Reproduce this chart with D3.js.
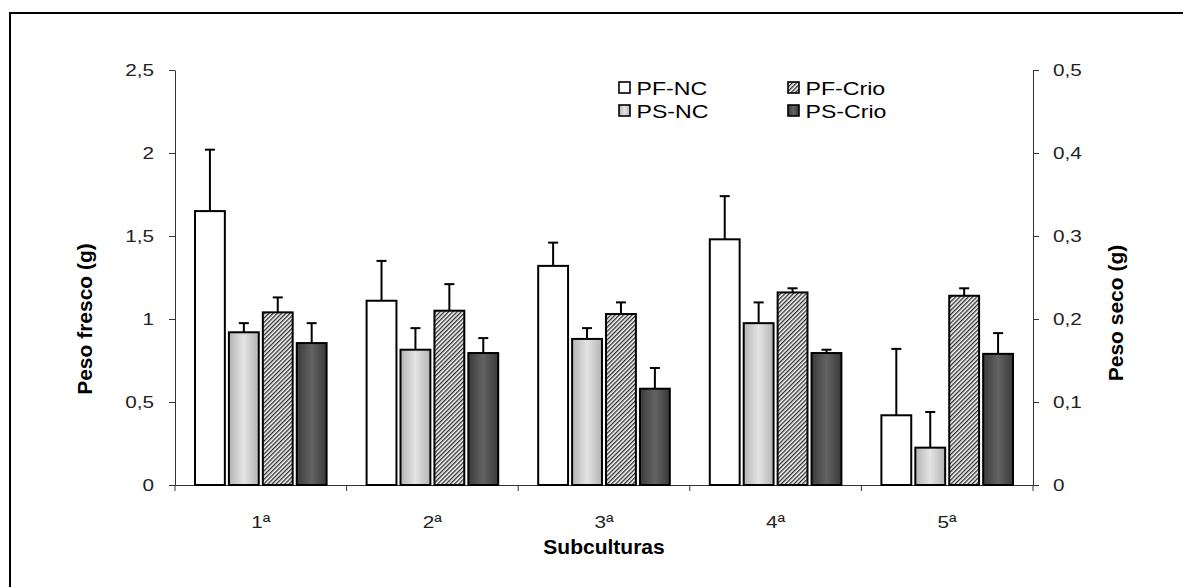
<!DOCTYPE html>
<html>
<head>
<meta charset="utf-8">
<script src="https://cdn.jsdelivr.net/npm/d3@7"></script>
<style>
  body { margin: 0; background: #fff; }
  svg text { font-family: "Liberation Sans", Arial, sans-serif; }
</style>
</head>
<body>
<div id="chart"></div>
<script>
var categories = ["1ª", "2ª", "3ª", "4ª", "5ª"];
var series = ["PF-NC", "PS-NC", "PF-Crio", "PS-Crio"];

// peso fresco (left axis), peso seco (right axis)
var pfNC     = [1.65, 1.11, 1.32, 1.48, 0.42];
var pfNCErr  = [0.37, 0.24, 0.14, 0.26, 0.40];
var psNC     = [0.184, 0.163, 0.176, 0.195, 0.045];
var psNCErr  = [0.011, 0.026, 0.013, 0.025, 0.043];
var pfCrio   = [1.04, 1.05, 1.03, 1.16, 1.14];
var pfCrioErr= [0.09, 0.16, 0.07, 0.025, 0.045];
var psCrio   = [0.171, 0.159, 0.116, 0.159, 0.158];
var psCrioErr= [0.024, 0.018, 0.025, 0.004, 0.025];

var leftTicks  = [0, 0.5, 1, 1.5, 2, 2.5];
var rightTicks = [0, 0.1, 0.2, 0.3, 0.4, 0.5];

function init(){
    var w = 1183, h = 587;
    var left = 175, right = 1033, top = 70, bottom = 485;
    var sx = 1.22; // wide text like the original

    var svg = d3.select("#chart").append("svg")
        .attr("width", w).attr("height", h);

    var defs = svg.append("defs");
    var hatch = defs.append("pattern")
        .attr("id", "hatch")
        .attr("patternUnits", "userSpaceOnUse")
        .attr("width", 3).attr("height", 3)
        .attr("patternTransform", "rotate(45)");
    hatch.append("rect").attr("width", 3).attr("height", 3).attr("fill", "#fff");
    hatch.append("line").attr("x1", 0.7).attr("y1", 0).attr("x2", 0.7).attr("y2", 3)
        .attr("stroke", "#222").attr("stroke-width", 1.3);

    function grad(id, edge, mid){
        var g = defs.append("linearGradient").attr("id", id)
            .attr("x1", "0%").attr("x2", "100%").attr("y1", "0%").attr("y2", "0%");
        g.append("stop").attr("offset", "0%").attr("stop-color", edge);
        g.append("stop").attr("offset", "50%").attr("stop-color", mid);
        g.append("stop").attr("offset", "100%").attr("stop-color", edge);
    }
    grad("gLight", "#b4b4b4", "#e4e4e4");
    grad("gDark", "#3a3a3a", "#636363");

    var fills = {"PF-NC": "#fff", "PS-NC": "url(#gLight)", "PF-Crio": "url(#hatch)", "PS-Crio": "url(#gDark)"};

    // outer frame
    svg.append("path").attr("d", "M10," + h + "V13H" + w)
        .attr("fill", "none").attr("stroke", "#000").attr("stroke-width", 2);

    var x = d3.scaleBand().domain(categories).range([left, right]);
    var xs = d3.scaleBand().domain(series)
        .range([20, x.bandwidth() - 20]).paddingInner(0.12);
    var yL = d3.scaleLinear().domain([0, 2.5]).range([bottom, top]);
    var yR = d3.scaleLinear().domain([0, 0.5]).range([bottom, top]);

    var data = [];
    categories.forEach(function(c, i){
        data.push({c: c, s: "PF-NC", v: pfNC[i], e: pfNCErr[i], y: yL});
        data.push({c: c, s: "PS-NC", v: psNC[i], e: psNCErr[i], y: yR});
        data.push({c: c, s: "PF-Crio", v: pfCrio[i], e: pfCrioErr[i], y: yL});
        data.push({c: c, s: "PS-Crio", v: psCrio[i], e: psCrioErr[i], y: yR});
    });

    var comma = function(d){ return String(d).replace(".", ","); };

    // axes
    var axL = svg.append("g").attr("transform", "translate(" + left + ",0)")
        .call(d3.axisLeft(yL).tickValues(leftTicks).tickSize(6).tickSizeOuter(0).tickFormat(comma));
    var axR = svg.append("g").attr("transform", "translate(" + right + ",0)")
        .call(d3.axisRight(yR).tickValues(rightTicks).tickSize(6).tickSizeOuter(0).tickFormat(comma));
    [axL, axR].forEach(function(a){
        a.selectAll("path, line").attr("stroke", "#333");
        a.selectAll("text").attr("font-size", "17px").attr("fill", "#222")
            .attr("transform", "scale(" + sx + ",1)");
    });
    axL.selectAll("text").attr("x", -21 / sx);
    axR.selectAll("text").attr("x", 20 / sx);

    var axB = svg.append("g").attr("transform", "translate(0," + bottom + ")")
        .call(d3.axisBottom(x).tickSize(0).tickPadding(31));
    axB.select(".domain").attr("stroke", "#333");
    axB.selectAll("text").attr("font-size", "17px").attr("fill", "#222")
        .attr("transform", "scale(" + sx + ",1)");

    var bounds = categories.map(function(c){ return x(c); }).concat([right]);
    svg.selectAll(".xtick").data(bounds).enter().append("line")
        .attr("x1", function(d){ return d; }).attr("x2", function(d){ return d; })
        .attr("y1", bottom).attr("y2", bottom + 6)
        .attr("stroke", "#333");

    // bars
    var g = svg.append("g");
    g.selectAll("line.err").data(data).enter().append("line")
        .attr("x1", function(d){ return x(d.c) + xs(d.s) + xs.bandwidth() / 2; })
        .attr("x2", function(d){ return x(d.c) + xs(d.s) + xs.bandwidth() / 2; })
        .attr("y1", function(d){ return d.y(d.v); })
        .attr("y2", function(d){ return d.y(d.v + d.e); })
        .attr("stroke", "#000").attr("stroke-width", 2);
    g.selectAll("line.cap").data(data).enter().append("line")
        .attr("x1", function(d){ return x(d.c) + xs(d.s) + xs.bandwidth() / 2 - 5; })
        .attr("x2", function(d){ return x(d.c) + xs(d.s) + xs.bandwidth() / 2 + 5; })
        .attr("y1", function(d){ return d.y(d.v + d.e); })
        .attr("y2", function(d){ return d.y(d.v + d.e); })
        .attr("stroke", "#000").attr("stroke-width", 2);
    g.selectAll("rect").data(data).enter().append("rect")
        .attr("x", function(d){ return x(d.c) + xs(d.s); })
        .attr("y", function(d){ return d.y(d.v); })
        .attr("width", xs.bandwidth())
        .attr("height", function(d){ return bottom - d.y(d.v); })
        .attr("fill", function(d){ return fills[d.s]; })
        .attr("stroke", "#000").attr("stroke-width", 2);

    // titles
    svg.append("text").text("Subculturas")
        .attr("x", 604).attr("y", 554).attr("text-anchor", "middle")
        .attr("font-size", "21px").attr("font-weight", "bold");
    svg.append("text").text("Peso fresco (g)")
        .attr("transform", "translate(92,319) rotate(-90)").attr("text-anchor", "middle")
        .attr("font-size", "21px").attr("font-weight", "bold");
    svg.append("text").text("Peso seco (g)")
        .attr("transform", "translate(1123,313) rotate(-90)").attr("text-anchor", "middle")
        .attr("font-size", "21px").attr("font-weight", "bold");

    // legend
    var legendPos = {"PF-NC": [619, 82], "PF-Crio": [788, 82], "PS-NC": [619, 105], "PS-Crio": [788, 105]};
    var lg = svg.selectAll(".lg").data(series).enter().append("g")
        .attr("transform", function(d){ return "translate(" + legendPos[d][0] + "," + legendPos[d][1] + ")"; });
    lg.append("rect").attr("width", 11).attr("height", 11)
        .attr("fill", function(d){ return fills[d]; })
        .attr("stroke", "#000").attr("stroke-width", 1.6);
    lg.append("text").text(function(d){ return d; })
        .attr("x", 17.5 / 1.25).attr("y", 12.5)
        .attr("transform", "scale(1.25,1)")
        .attr("font-size", "18.5px").attr("fill", "#000");
}

window.onload = init;
</script>
</body>
</html>
